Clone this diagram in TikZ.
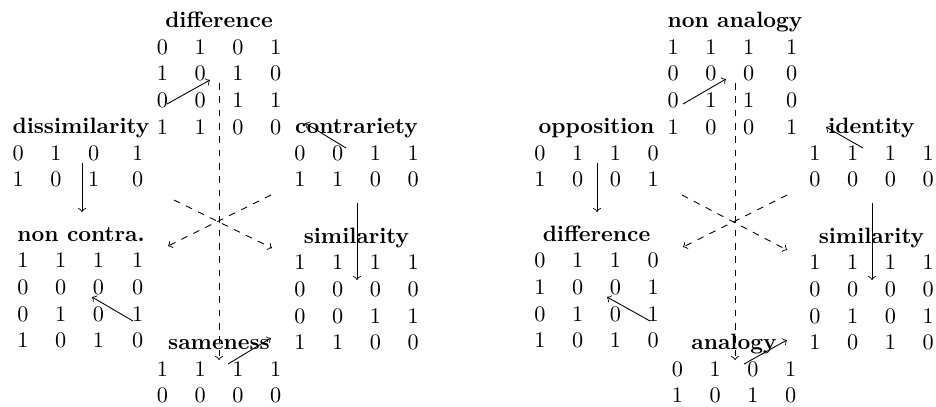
\documentclass[tikz,border=0pt]{standalone}
\newcommand{\cellgrid}[2]{\begin{tabular}[t]{cccc}\multicolumn{4}{c}{\textbf{#1}}\\#2\end{tabular}}
\begin{document}
\begin{tikzpicture}[x=0.45pt,y=-0.45pt,
  grp/.style={anchor=base,inner sep=0pt,font=\fontsize{10}{12}\selectfont},
  link/.style={->,line width=0.4pt},
  dlink/.style={->,dashed,line width=0.4pt}]
\useasboundingbox (0,0) rectangle (936,406);
% ---------- left diagram ----------
\node[grp] (ldif) at (219,27.5) {\cellgrid{difference}{0&1&0&1\\1&0&1&0\\0&0&1&1\\1&1&0&0}};
\node[grp] (ldis) at (81,133.5) {\cellgrid{dissimilarity}{0&1&0&1\\1&0&1&0}};
\node[grp] (lcon) at (356.5,133.5) {\cellgrid{contrariety}{0&0&1&1\\1&1&0&0}};
\node[grp] (lnon) at (81,241) {\cellgrid{non contra.}{1&1&1&1\\0&0&0&0\\0&1&0&1\\1&0&1&0}};
\node[grp] (lsim) at (356.5,243) {\cellgrid{similarity}{1&1&1&1\\0&0&0&0\\0&0&1&1\\1&1&0&0}};
\node[grp] (lsam) at (219,349.5) {\cellgrid{sameness}{1&1&1&1\\0&0&0&0}};
% dashed star
\coordinate (lvt) at (219,83);   \coordinate (lvb) at (219,360);
\coordinate (lul) at (174,200);  \coordinate (llr) at (272,248);
\coordinate (lur) at (271,195);  \coordinate (lll) at (168,246);
\draw[dlink] (lvt) -- (lvb);
\draw[dlink] (lul) -- (llr);
\draw[dlink] (lur) -- (lll);
% solid arrows
\coordinate (la1) at (167,104); \coordinate (la1e) at (210,80);
\coordinate (la2) at (346,148); \coordinate (la2e) at (305,123);
\coordinate (la3) at (82,163);  \coordinate (la3e) at (82,212);
\coordinate (la4) at (357,203); \coordinate (la4e) at (357,280);
\coordinate (la5) at (133,321); \coordinate (la5e) at (92,297);
\coordinate (la6) at (228,364); \coordinate (la6e) at (271,338);
\draw[link] (la1) -- (la1e);
\draw[link] (la2) -- (la2e);
\draw[link] (la3) -- (la3e);
\draw[link] (la4) -- (la4e);
\draw[link] (la5) -- (la5e);
\draw[link] (la6) -- (la6e);
% ---------- right diagram ----------
\node[grp] (rnan) at (735,27.5) {\cellgrid{non analogy}{1&1&1&1\\0&0&0&0\\0&1&1&0\\1&0&0&1}};
\node[grp] (ropp) at (596.5,133.5) {\cellgrid{opposition}{0&1&1&0\\1&0&0&1}};
\node[grp] (ride) at (871.5,133.5) {\cellgrid{identity}{1&1&1&1\\0&0&0&0}};
\node[grp] (rdif) at (596.5,241) {\cellgrid{difference}{0&1&1&0\\1&0&0&1\\0&1&0&1\\1&0&1&0}};
\node[grp] (rsim) at (871.5,243) {\cellgrid{similarity}{1&1&1&1\\0&0&0&0\\0&1&0&1\\1&0&1&0}};
\node[grp] (rana) at (734,349.5) {\cellgrid{analogy}{0&1&0&1\\1&0&1&0}};
% dashed star
\coordinate (rvt) at (735,83);   \coordinate (rvb) at (735,360);
\coordinate (rul) at (682,195);  \coordinate (rlr) at (787,250);
\coordinate (rur) at (787,195);  \coordinate (rll) at (683,247);
\draw[dlink] (rvt) -- (rvb);
\draw[dlink] (rul) -- (rlr);
\draw[dlink] (rur) -- (rll);
% solid arrows
\coordinate (ra1) at (683,104); \coordinate (ra1e) at (726,79);
\coordinate (ra2) at (863,148); \coordinate (ra2e) at (826,127);
\coordinate (ra3) at (597,163); \coordinate (ra3e) at (597,212);
\coordinate (ra4) at (872,203); \coordinate (ra4e) at (872,280);
\coordinate (ra5) at (650,321); \coordinate (ra5e) at (607,297);
\coordinate (ra6) at (744,364); \coordinate (ra6e) at (787,340);
\draw[link] (ra1) -- (ra1e);
\draw[link] (ra2) -- (ra2e);
\draw[link] (ra3) -- (ra3e);
\draw[link] (ra4) -- (ra4e);
\draw[link] (ra5) -- (ra5e);
\draw[link] (ra6) -- (ra6e);
\end{tikzpicture}
\end{document}
